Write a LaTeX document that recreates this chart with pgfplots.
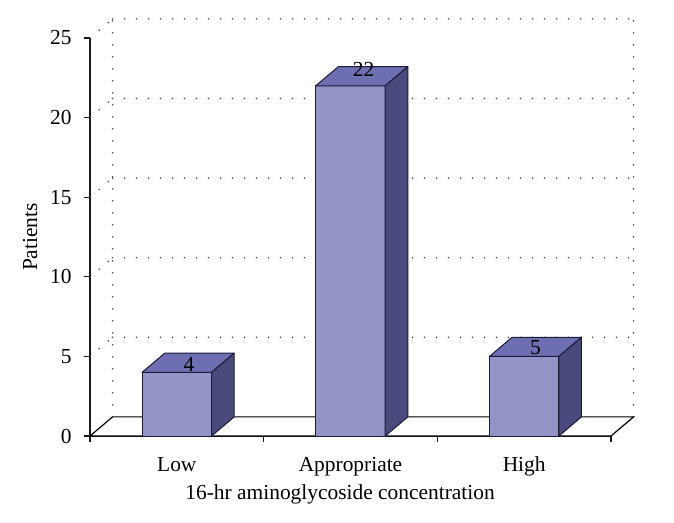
\documentclass[border=0pt]{standalone}
\usepackage{pgfplots}
\pgfplotsset{compat=1.18}
\usepackage{fontspec}
\setmainfont{Liberation Serif}
\definecolor{barfront}{HTML}{9393C5}
\definecolor{bartop}{HTML}{6E6EB2}
\definecolor{barside}{HTML}{4A4A7C}
\definecolor{baredge}{HTML}{1C1C38}
\begin{document}
\begin{tikzpicture}
\path[use as bounding box] (-90bp,-87bp) rectangle (584bp,436bp);
\begin{axis}[
 at={(0,0)}, anchor=south west,
 width=521bp, height=398bp, scale only axis,
 xmin=0, xmax=3, ymin=0, ymax=25,
 clip=false,
 axis x line=bottom, axis y line=left,
 axis line style={-, line width=1.2bp, black!90},
 tick style={line width=1.2bp, black!90},
 tick align=outside, major tick length=6bp,
 xtick={0,1,2,3}, xticklabels={},
 extra x ticks={0.5,1.5,2.5},
 extra x tick labels={Low,Appropriate,High},
 extra x tick style={major tick length=0pt, xticklabel style={anchor=base, yshift=-35bp}},
 ytick={0,5,...,25},
 yticklabel style={xshift=-9bp},
 tick label style={font=\fontsize{21.5}{25}\selectfont},
 /pgf/number format/assume math mode=true,
 xlabel={16-hr aminoglycoside concentration},
 ylabel={Patients},
 every axis x label/.style={at={(axis description cs:0.48,-0.146)}, anchor=center, font=\fontsize{21.5}{25}\selectfont},
 every axis y label/.style={at={(axis description cs:-0.115,0.5)}, anchor=center, rotate=90, font=\fontsize{21.5}{25}\selectfont},
 gridstyle/.style={draw=black!75, line width=1.7bp, line cap=round, dash pattern=on 0bp off 12bp, mark=none},
 facestyle/.style={draw=baredge, line width=1bp, line join=round, mark=none},
]
% back wall grid
\addplot[gridstyle] coordinates {(0.13,6.2) (3.13,6.2)};
\addplot[gridstyle] coordinates {(0.13,11.2) (3.13,11.2)};
\addplot[gridstyle] coordinates {(0.13,16.2) (3.13,16.2)};
\addplot[gridstyle] coordinates {(0.13,21.2) (3.13,21.2)};
\addplot[gridstyle] coordinates {(0.13,26.2) (3.13,26.2)};
\addplot[gridstyle] coordinates {(0.13,1.2) (0.13,26.2)};
\addplot[gridstyle] coordinates {(3.13,1.2) (3.13,26.2)};
% side wall grid
\addplot[gridstyle] coordinates {(0,5) (0.13,6.2)};
\addplot[gridstyle] coordinates {(0,10) (0.13,11.2)};
\addplot[gridstyle] coordinates {(0,15) (0.13,16.2)};
\addplot[gridstyle] coordinates {(0,20) (0.13,21.2)};
\addplot[gridstyle] coordinates {(0,25) (0.13,26.2)};
% floor
\addplot[fill=white, draw=black, line width=1.2bp, mark=none] coordinates {(0,0) (3,0) (3.13,1.2) (0.13,1.2)} -- cycle;
% bars: front faces
\addplot[ybar, bar width=0.4, fill=barfront, draw=baredge, line width=1bp] coordinates {(0.5,4) (1.5,22) (2.5,5)};
% top faces
\addplot[facestyle, fill=bartop] coordinates {(0.3,4) (0.7,4) (0.83,5.2) (0.43,5.2)} -- cycle;
\addplot[facestyle, fill=bartop] coordinates {(1.3,22) (1.7,22) (1.83,23.2) (1.43,23.2)} -- cycle;
\addplot[facestyle, fill=bartop] coordinates {(2.3,5) (2.7,5) (2.83,6.2) (2.43,6.2)} -- cycle;
% side faces
\addplot[facestyle, fill=barside] coordinates {(0.7,0) (0.83,1.2) (0.83,5.2) (0.7,4)} -- cycle;
\addplot[facestyle, fill=barside] coordinates {(1.7,0) (1.83,1.2) (1.83,23.2) (1.7,22)} -- cycle;
\addplot[facestyle, fill=barside] coordinates {(2.7,0) (2.83,1.2) (2.83,6.2) (2.7,5)} -- cycle;
% value labels
\addplot[draw=none, mark=none, nodes near coords, point meta=explicit symbolic,
  every node near coord/.append style={anchor=south, inner sep=0pt, font=\fontsize{21.5}{25}\selectfont}]
  coordinates {(0.57,4.02) [4] (1.575,22.55) [22] (2.565,5.09) [5]};
\end{axis}
\end{tikzpicture}
\end{document}
